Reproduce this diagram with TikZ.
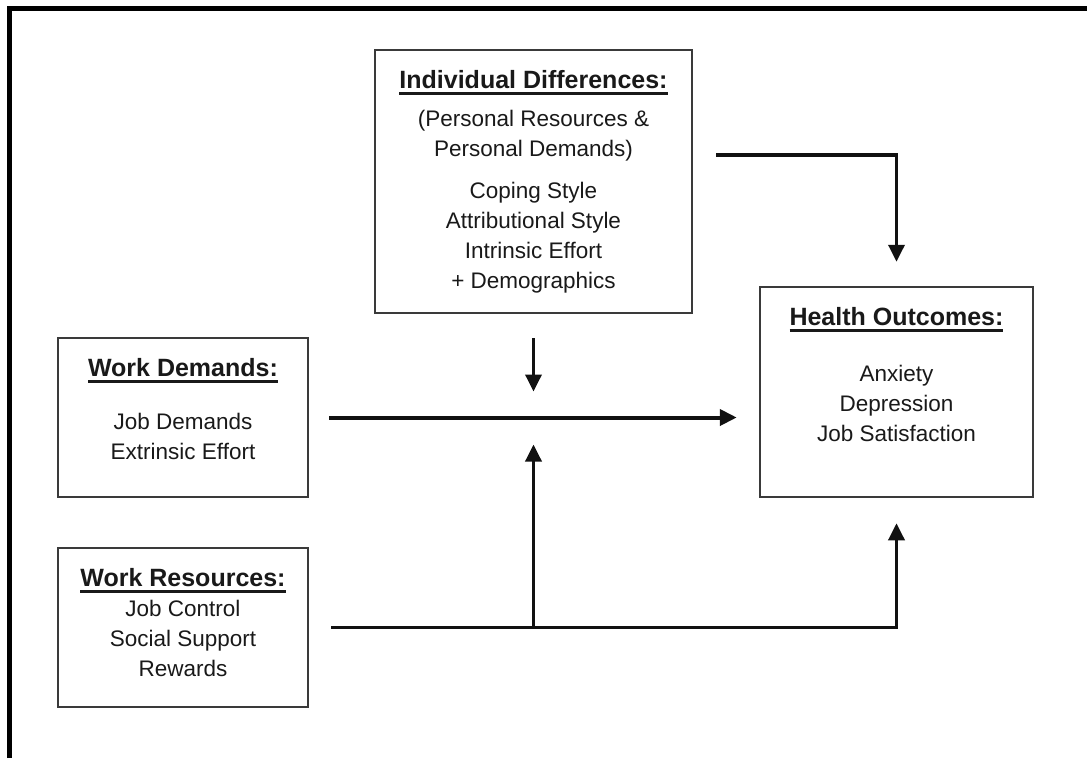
\documentclass[tikz,border=0pt]{standalone}
\usepackage{fontspec}
\setmainfont{Liberation Sans}
\usetikzlibrary{positioning,arrows.meta}
\definecolor{boxline}{HTML}{3A3A3A}
\definecolor{inkline}{HTML}{111111}
\newcommand{\ttl}[1]{{\fontsize{25}{30}\selectfont\bfseries\setbox0\hbox{#1}\rlap{\rule[-7pt]{\wd0}{3pt}}\box0}}
\begin{document}
\begin{tikzpicture}[x=1pt,y=-1pt,
  box/.style={draw=boxline,line width=2.5pt,inner sep=0pt},
  txt/.style={align=center,inner sep=0pt,text=black!90,font=\fontsize{22.5}{30}\selectfont},
  arr/.style={draw=inkline,line width=3.5pt,-{Triangle[length=17pt,width=16pt]}},
  link/.style={draw=inkline,line width=3.2pt}]
  \useasboundingbox (0,0) rectangle (1087,758);
  % Frame
  \draw[line width=5pt] (9,758) -- (9,8) -- (1087,8);
  % Boxes
  \node[box,minimum width=317pt,minimum height=263pt] (id) at (533.5,181.5) {};
  \node[box,minimum width=250pt,minimum height=159pt] (wd) at (183,417.5) {};
  \node[box,minimum width=250pt,minimum height=159pt] (wr) at (183,627.5) {};
  \node[box,minimum width=273pt,minimum height=210pt] (ho) at (896.5,392) {};
  % Texts
  \node[txt,below=21pt of id.north] (id-txt) {\ttl{Individual Differences:}\\[8pt]
    (Personal Resources \&\\ Personal Demands)\\[12pt]
    Coping Style\\ Attributional Style\\ Intrinsic Effort\\ + Demographics};
  \node[txt,below=21pt of wd.north] (wd-txt) {\ttl{Work Demands:}\\[23pt]
    Job Demands\\ Extrinsic Effort};
  \node[txt,below=21pt of wr.north] (wr-txt) {\ttl{Work Resources:}\\
    Job Control\\ Social Support\\ Rewards};
  \node[txt,below=21pt of ho.north] (ho-txt) {\ttl{Health Outcomes:}\\[26pt]
    Anxiety\\ Depression\\ Job Satisfaction};
  % Junction
  \coordinate (mid) at (id.south |- wd.east);
  \coordinate (foot) at (id.south |- wr.east);
  % Demands to outcomes
  \draw[arr,line width=4pt] ([xshift=20pt]wd.east) -- ([xshift=-22pt]wd.east -| ho.west);
  % Moderators
  \draw[arr] ([yshift=-24pt]id.south) -- ([yshift=26pt]mid);
  \draw[arr] (foot) -- ([yshift=-27pt]mid);
  % Resources line
  \draw[link] ([xshift=22pt]wr.east) -- (foot);
  \draw[arr] (foot) -| ([yshift=-25pt]ho.south);
  % Individual differences to outcomes
  \draw[arr] ([shift={(23pt,26.5pt)}]id.east) -| ([yshift=24pt]ho.north);
\end{tikzpicture}
\end{document}
